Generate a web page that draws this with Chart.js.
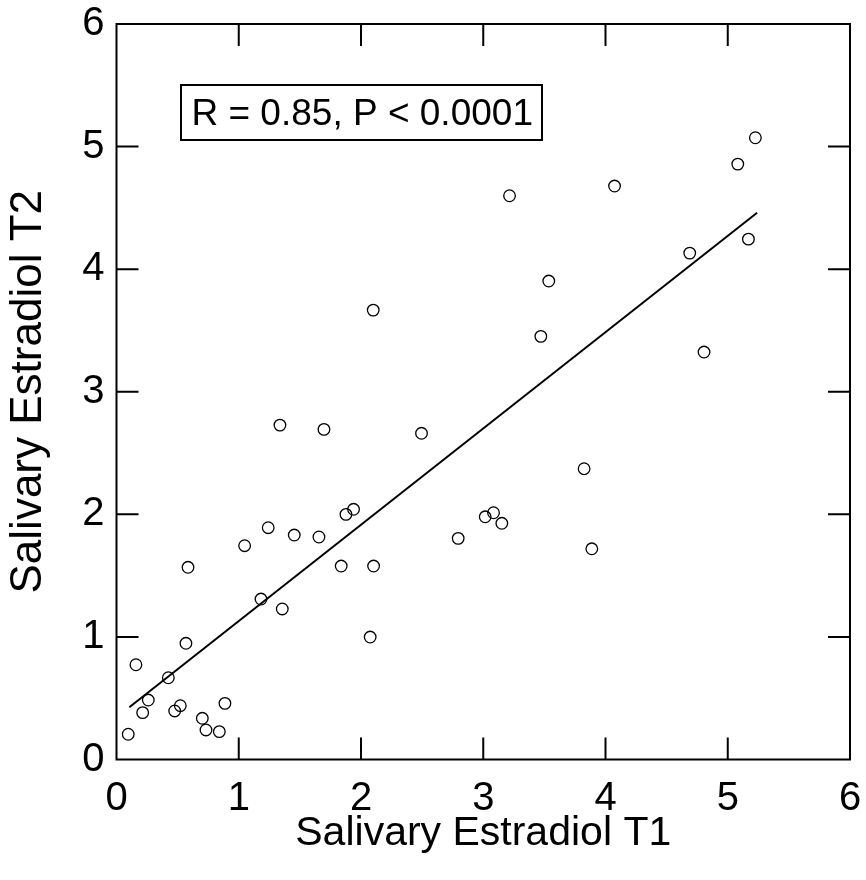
<!DOCTYPE html>
<html>
<head>
<meta charset="utf-8">
<script src="https://cdn.jsdelivr.net/npm/chart.js@4/dist/chart.umd.min.js"></script>
<style>
  html, body { margin: 0; padding: 0; background: #ffffff; }
  #wrap { width: 866px; height: 880px; position: relative; }
</style>
</head>
<body>
<div id="wrap"><canvas id="c" width="866" height="880"></canvas></div>
<script>
// ---- data ----
const t1Values = [0.096, 0.159, 0.214, 0.260, 0.424, 0.476, 0.522, 0.568, 0.585, 0.702,
                  0.732, 0.841, 0.887, 1.048, 1.182, 1.241, 1.337, 1.356, 1.454, 1.656,
                  1.697, 1.838, 1.877, 1.939, 2.075, 2.100, 2.103, 2.495, 2.795, 3.016,
                  3.084, 3.152, 3.215, 3.471, 3.536, 3.825, 3.888, 4.074, 4.689, 4.806,
                  5.082, 5.169, 5.226];
const t2Values = [0.206, 0.773, 0.382, 0.485, 0.667, 0.396, 0.439, 0.948, 1.568, 0.336,
                  0.241, 0.227, 0.458, 1.744, 1.309, 1.891, 2.728, 1.228, 1.831, 1.815,
                  2.693, 1.578, 2.000, 2.041, 0.999, 3.666, 1.578, 2.661, 1.804, 1.980,
                  2.013, 1.927, 4.599, 3.452, 3.903, 2.372, 1.719, 4.678, 4.131, 3.324,
                  4.857, 4.245, 5.072];
const fitX = [0.105, 5.24];
const fitY = [0.426, 4.46];
const tickValues = [0, 1, 2, 3, 4, 5, 6];
const xTitle = 'Salivary Estradiol T1';
const yTitle = 'Salivary Estradiol T2';
const statText = 'R = 0.85, P < 0.0001';

const FONT = "'Liberation Sans', Arial, Helvetica, sans-serif";

const points = t1Values.map((v, i) => ({ x: v, y: t2Values[i] }));
const fitPoints = fitX.map((v, i) => ({ x: v, y: fitY[i] }));

// frame, inward ticks on all four sides, and the statistics box
const framePlugin = {
  id: 'frame',
  afterDraw(chart, args, opts) {
    const { ctx, chartArea: a, scales } = chart;
    const xs = scales.x, ys = scales.y;
    const tl = opts.tickLength;
    ctx.save();
    ctx.strokeStyle = '#000';
    ctx.lineWidth = 2;
    ctx.lineCap = 'butt';
    ctx.strokeRect(a.left, a.top, a.right - a.left, a.bottom - a.top);
    ctx.beginPath();
    tickValues.forEach(v => {
      if (v === xs.min || v === xs.max) return;
      const px = xs.getPixelForValue(v);
      ctx.moveTo(px, a.bottom); ctx.lineTo(px, a.bottom - tl);
      ctx.moveTo(px, a.top); ctx.lineTo(px, a.top + tl);
    });
    tickValues.forEach(v => {
      if (v === ys.min || v === ys.max) return;
      const py = ys.getPixelForValue(v);
      ctx.moveTo(a.left, py); ctx.lineTo(a.left + tl, py);
      ctx.moveTo(a.right, py); ctx.lineTo(a.right - tl, py);
    });
    ctx.stroke();

    // statistics box
    const cx = xs.getPixelForValue(opts.boxX);
    const cy = ys.getPixelForValue(opts.boxY);
    ctx.font = opts.boxFont + 'px ' + FONT;
    const w = ctx.measureText(statText).width;
    const bw = w + 2 * opts.boxPadX;
    const bh = opts.boxHeight;
    ctx.lineWidth = 2;
    ctx.strokeRect(Math.round(cx - bw / 2), Math.round(cy - bh / 2), Math.round(bw), bh);
    ctx.fillStyle = '#000';
    ctx.textAlign = 'center';
    ctx.textBaseline = 'alphabetic';
    ctx.fillText(statText, cx, cy + 13);
    ctx.restore();
  }
};

new Chart(document.getElementById('c'), {
  type: 'scatter',
  data: {
    datasets: [
      {
        label: 'Subjects',
        data: points,
        showLine: false,
        pointStyle: 'circle',
        pointRadius: 5.8,
        pointHoverRadius: 5.8,
        pointBorderWidth: 1.3,
        pointBorderColor: '#000',
        pointBackgroundColor: 'rgba(255,255,255,0)',
        order: 1
      },
      {
        label: 'Fit',
        data: fitPoints,
        showLine: true,
        borderColor: '#000',
        borderWidth: 2,
        pointRadius: 0,
        fill: false,
        order: 2
      }
    ]
  },
  options: {
    responsive: false,
    animation: false,
    devicePixelRatio: 1,
    layout: { padding: { top: 24, right: 16, left: 0, bottom: 0 } },
    plugins: {
      legend: { display: false },
      tooltip: { enabled: false },
      frame: { tickLength: 22, boxX: 2.01, boxY: 5.28, boxPadX: 10, boxHeight: 55, boxFont: 37 }
    },
    scales: {
      x: {
        type: 'linear',
        min: 0, max: 6,
        afterBuildTicks: s => { s.ticks = tickValues.map(v => ({ value: v })); },
        afterFit: s => { s.height = 120.5; s.paddingLeft = 0; s.paddingRight = 0; },
        grid: { display: false, drawTicks: false },
        border: { display: false },
        ticks: {
          color: '#000', padding: 15, maxRotation: 0,
          font: { family: FONT, size: 40 }
        },
        title: {
          display: true, text: xTitle, color: '#000',
          font: { family: FONT, size: 41 },
          padding: { top: 0, bottom: 22 }
        }
      },
      y: {
        type: 'linear',
        min: 0, max: 6,
        afterBuildTicks: s => { s.ticks = tickValues.map(v => ({ value: v })); },
        afterFit: s => { s.width = 116.5; s.paddingTop = 0; s.paddingBottom = 0; },
        grid: { display: false, drawTicks: false },
        border: { display: false },
        ticks: {
          color: '#000', padding: 12,
          font: { family: FONT, size: 40 }
        },
        title: {
          display: true, text: yTitle, color: '#000',
          font: { family: FONT, size: 44 },
          padding: { top: 2, bottom: 0 }
        }
      }
    }
  },
  plugins: [framePlugin]
});
</script>
</body>
</html>
